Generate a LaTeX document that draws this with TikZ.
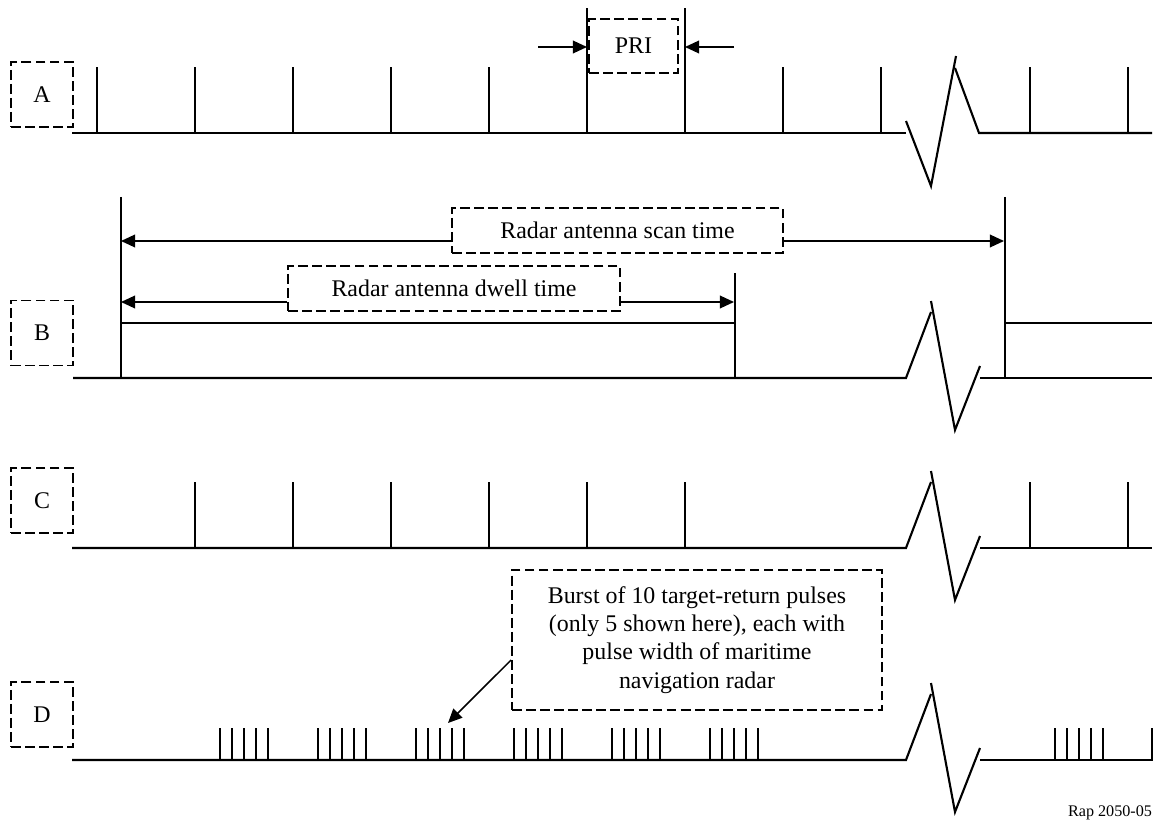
\documentclass[tikz,border=0pt]{standalone}
\usepackage{fontspec}
\setmainfont{Liberation Serif}
\usetikzlibrary{arrows.meta}

\begin{document}
\begin{tikzpicture}[x=0.025cm,y=-0.025cm,>={Triangle[length=10pt,width=9pt]},
  every node/.style={font=\fontsize{17}{20}\selectfont},
  sig/.style={line width=1.5pt},
  arr/.style={->,line width=1.1pt},
  lbl/.style={draw,dash pattern=on 7pt off 3pt,line width=1.2pt,inner sep=0pt},
  tag/.style={lbl,minimum width=1.55cm,minimum height=1.625cm}]
\useasboundingbox (0,0) rectangle (1158,827);
% row labels
\node[tag] (labA) at (42,94.5) {A};
\node[tag] (labB) at (42,333) {B};
\node[tag] (labC) at (42,500.5) {C};
\node[tag] (labD) at (42,714.5) {D};
% A: pulse train
\draw[sig] (72,133) -- (906,133);
\draw[sig] (906,121) -- (931,186) -- (956,56);
\draw[sig] (955,68) -- (979,133) -- (1152,133);
\foreach \x in {97,195,293,391,489,783,881,1030,1128} \draw[sig] (\x,133) -- (\x,67);
\foreach \x in {587,685} \draw[sig] (\x,133) -- (\x,8);
\node[lbl,minimum width=2.225cm,minimum height=1.35cm] (pri) at (633.5,46) {PRI};
\coordinate (priL) at (538,47); \coordinate (priLend) at (587,47);
\coordinate (priR) at (734,47); \coordinate (priRend) at (685,47);
\draw[arr] (priL) -- (priLend); \draw[arr] (priR) -- (priRend);
% B: antenna scan
\draw[sig] (73,378) -- (906,378) -- (931,312);
\draw[sig] (931,301) -- (955,430) -- (980,366);
\draw[sig] (980,378) -- (1152,378);
\draw[sig] (121,197) -- (121,378); \draw[sig] (735,273) -- (735,378); \draw[sig] (1005,197) -- (1005,378);
\draw[sig] (121,323) -- (735,323); \draw[sig] (1005,323) -- (1152,323);
\node[lbl,minimum width=8.275cm,minimum height=1.125cm] (scan) at (617.5,230.5) {Radar antenna scan time};
\node[lbl,minimum width=8.3cm,minimum height=1.125cm] (dwell) at (454,288.5) {Radar antenna dwell time};
\coordinate (scanL) at (121,241); \coordinate (scanR) at (1004,241);
\coordinate (dwellL) at (121,302); \coordinate (dwellR) at (734,302);
\draw[arr] (scan.west |- scanL) -- (scanL); \draw[arr] (scan.east |- scanR) -- (scanR);
\draw[arr] (dwell.west |- dwellL) -- (dwellL); \draw[arr] (dwell.east |- dwellR) -- (dwellR);
% C: main beam hits
\draw[sig] (72,548) -- (906,548) -- (931,482);
\draw[sig] (931,471) -- (955,600) -- (980,536);
\draw[sig] (980,548) -- (1152,548);
\foreach \x in {195,293,391,489,587,685,1030,1128} \draw[sig] (\x,548) -- (\x,482);
% D: bursts
\draw[sig] (72,760) -- (906,760) -- (931,694);
\draw[sig] (931,683) -- (955,812) -- (980,748);
\draw[sig] (980,760) -- (1152,760) -- (1152,728);
\foreach \g in {220,318,416,514,612,710,1055}
  \foreach \j in {0,...,4} \draw[sig] ({\g+12*\j},760) -- ({\g+12*\j},728);
\node[lbl,minimum width=9.25cm,minimum height=3.5cm,align=center] (burst) at (697,640)
  {Burst of 10 target-return pulses\\(only 5 shown here), each with\\pulse width of maritime\\navigation radar};
\coordinate (burstTail) at (512,660); \coordinate (burstTip) at (448,723);
\draw[arr] (burst.west |- burstTail) -- (burstTip);
\node[anchor=south east,font=\fontsize{11.5}{13}\selectfont] (ref) at (1157,825) {Rap 2050-05};
\end{tikzpicture}
\end{document}
